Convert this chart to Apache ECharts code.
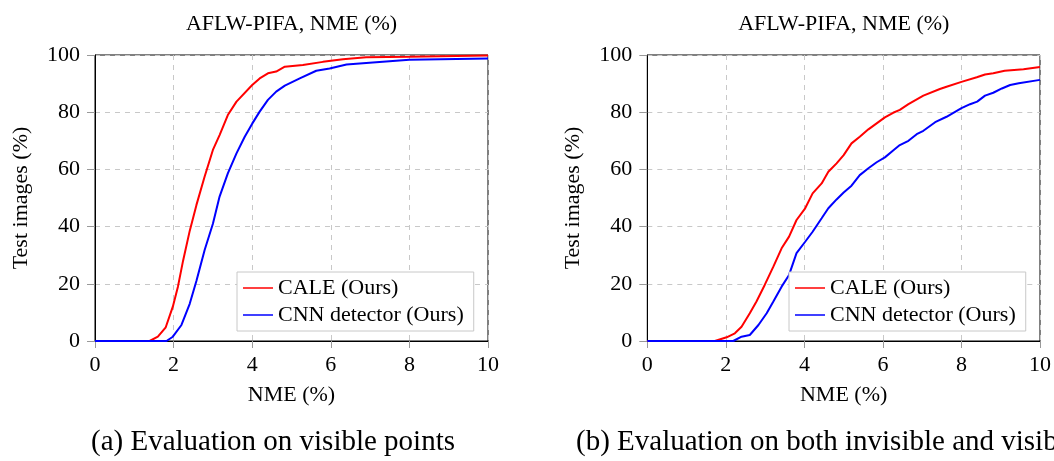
<!DOCTYPE html>
<html>
<head>
<meta charset="utf-8">
<script src="https://cdn.jsdelivr.net/npm/echarts@6/dist/echarts.min.js"></script>
<style>
html,body{margin:0;padding:0;background:#fff;}
#chart{width:1054px;height:461px;}
</style>
</head>
<body>
<div id="chart"></div>
<script>
// ---- data ----
const chartTitle = 'AFLW-PIFA, NME (%)';
const xName = 'NME (%)';
const yName = 'Test images (%)';
const seriesNames = ['CALE (Ours)', 'CNN detector (Ours)'];
const captions = ['(a) Evaluation on visible points', '(b) Evaluation on both invisible and visible points'];
const xTicks = [0, 2, 4, 6, 8, 10];
const yTicks = [0, 20, 40, 60, 80, 100];

const leftCaleX = [0, 1.39, 1.6, 1.8, 1.98, 2.11, 2.24, 2.41, 2.58, 2.79, 3.0, 3.17, 3.38, 3.6, 4.0, 4.19, 4.4, 4.61, 4.83, 5.29, 5.8, 6.31, 6.9, 8.0, 10];
const leftCaleY = [0, 0, 1.5, 4.8, 12, 19, 28, 38.5, 47.5, 57.5, 66.8, 72, 79, 83.7, 89.5, 91.8, 93.6, 94.2, 95.9, 96.5, 97.6, 98.5, 99.2, 99.4, 99.8];

const leftCnnX = [0, 1.82, 1.98, 2.2, 2.41, 2.58, 2.79, 3.0, 3.17, 3.38, 3.6, 3.81, 4.0, 4.19, 4.4, 4.61, 4.83, 5.21, 5.63, 5.97, 6.4, 7.07, 8.0, 9.2, 10];
const leftCnnY = [0, 0, 1.5, 5.6, 13, 21, 31.8, 41, 50.5, 58.6, 65.6, 71.4, 76, 80.2, 84.3, 87.2, 89.3, 91.8, 94.5, 95.3, 96.7, 97.4, 98.3, 98.6, 98.8];

const rightCaleX = [0, 1.72, 2.02, 2.23, 2.4, 2.61, 2.78, 2.99, 3.21, 3.42, 3.61, 3.8, 4.02, 4.21, 4.44, 4.61, 4.82, 5.0, 5.2, 5.41, 5.63, 5.84, 6.05, 6.26, 6.43, 6.65, 7.03, 7.45, 7.62, 8.0, 8.39, 8.6, 8.81, 9.1, 9.58, 10];
const rightCaleY = [0, 0, 1.3, 2.7, 5, 9.7, 13.8, 19.6, 26, 32.4, 36.5, 42.3, 46.4, 51.6, 55.1, 59.2, 62.1, 65, 69.1, 71.4, 74, 76.1, 78.2, 79.8, 80.8, 82.8, 85.8, 88.1, 88.9, 90.6, 92.2, 93.2, 93.6, 94.5, 95, 95.8];

const rightCnnX = [0, 2.19, 2.4, 2.61, 2.83, 3.04, 3.21, 3.42, 3.61, 3.8, 4.02, 4.21, 4.44, 4.61, 4.82, 5.0, 5.2, 5.41, 5.63, 5.84, 6.05, 6.26, 6.43, 6.65, 6.86, 7.03, 7.33, 7.62, 8.0, 8.22, 8.4, 8.6, 8.81, 9.03, 9.24, 9.46, 10];
const rightCnnY = [0, 0, 1.5, 2.1, 5.6, 9.7, 13.8, 19, 23.1, 30.7, 34.7, 38.2, 42.9, 46.4, 49.5, 51.9, 54.3, 58, 60.4, 62.5, 64.2, 66.6, 68.5, 70, 72.3, 73.5, 76.5, 78.4, 81.4, 82.8, 83.7, 85.8, 86.8, 88.3, 89.5, 90.1, 91.3];

// ---- chart ----
const FONT = '"Liberation Serif", "DejaVu Serif", serif';
const zip = (xs, ys) => xs.map((x, i) => [x, ys[i]]);

const grids = [
  { left: 95, top: 55, width: 393, height: 286 },
  { left: 647.3, top: 55, width: 393, height: 286 }
];

function xAxis(gi) {
  return {
    type: 'value', gridIndex: gi, min: xTicks[0], max: xTicks[xTicks.length - 1], interval: 2,
    name: xName, nameLocation: 'middle', nameGap: 43,
    nameTextStyle: { fontFamily: FONT, fontSize: 22, color: '#000' },
    axisLine: { show: true, onZero: false, lineStyle: { color: '#000', width: 1 } },
    axisTick: { show: true, inside: false, length: 7, lineStyle: { color: '#999' } },
    axisLabel: { fontFamily: FONT, fontSize: 22, color: '#000', margin: 13 },
    splitLine: { show: true, lineStyle: { color: '#c8c8c8', type: [5, 5], width: 1 } }
  };
}
function yAxis(gi) {
  return {
    type: 'value', gridIndex: gi, min: yTicks[0], max: yTicks[yTicks.length - 1], interval: 20,
    name: yName, nameLocation: 'middle', nameGap: 63, nameRotate: 90,
    nameTextStyle: { fontFamily: FONT, fontSize: 22, color: '#000' },
    axisLine: { show: true, onZero: false, lineStyle: { color: '#000', width: 1 } },
    axisTick: { show: true, inside: false, length: 8, lineStyle: { color: '#999' } },
    axisLabel: { fontFamily: FONT, fontSize: 22, color: '#000', margin: 15 },
    splitLine: { show: true, lineStyle: { color: '#c8c8c8', type: [5, 5], width: 1 } }
  };
}
function line(name, data, color, gi) {
  return {
    type: 'line', name: name, xAxisIndex: gi, yAxisIndex: gi, data: data,
    showSymbol: false, symbol: 'none', smooth: false, animation: false,
    lineStyle: { color: color, width: 2 }, itemStyle: { color: color }, z: 3
  };
}
function legend(left) {
  return {
    orient: 'vertical', left: left, top: 272,
    data: seriesNames.map(n => ({ name: n, icon: 'rect' })),
    itemWidth: 30, itemHeight: 1.5, itemGap: 5,
    padding: [5, 10, 5, 6],
    backgroundColor: '#fff', borderColor: '#c8c8c8', borderWidth: 1, borderRadius: 0,
    textStyle: { fontFamily: FONT, fontSize: 22, color: '#000', lineHeight: 22 },
    selectedMode: false, z: 10
  };
}
function title(text, left, top, size, align) {
  return {
    text: text, left: left, top: top, padding: 0, textAlign: align,
    textStyle: { fontFamily: FONT, fontSize: size, fontWeight: 'normal', color: '#000', lineHeight: size }
  };
}

const chart = echarts.init(document.getElementById('chart'), null, { renderer: 'canvas' });
chart.setOption({
  animation: false,
  backgroundColor: '#fff',
  title: [
    title(chartTitle, 291.5, 13, 22, 'center'),
    title(chartTitle, 843.8, 13, 22, 'center'),
    title(captions[0], 273, 428, 29, 'center'),
    title(captions[1], 576, 428, 29, 'left')
  ],
  grid: grids.map(g => Object.assign({ show: true, borderColor: '#000', borderWidth: 1, backgroundColor: 'transparent', containLabel: false }, g)),
  xAxis: [xAxis(0), xAxis(1)],
  yAxis: [yAxis(0), yAxis(1)],
  legend: [legend(237), legend(789)],
  series: [
    line(seriesNames[0], zip(leftCaleX, leftCaleY), '#ff0000', 0),
    line(seriesNames[1], zip(leftCnnX, leftCnnY), '#0000ff', 0),
    line(seriesNames[0], zip(rightCaleX, rightCaleY), '#ff0000', 1),
    line(seriesNames[1], zip(rightCnnX, rightCnnY), '#0000ff', 1)
  ]
});
</script>
</body>
</html>
